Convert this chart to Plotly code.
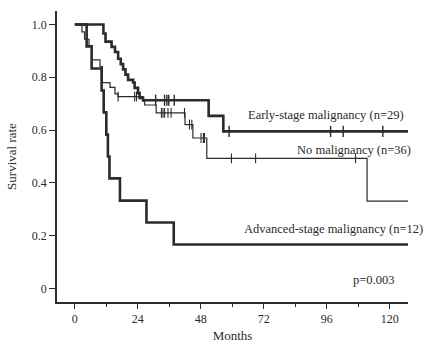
import plotly.graph_objects as go

# ---- data ----
# No malignancy (n=36): event times and survival after each event
nomal_t = [0, 2.7, 3.7, 5.4, 6.4, 9.6, 10.5, 13.4, 15.3, 16.5, 26, 26.6, 31, 42, 45, 50.3, 111.4, 127]
nomal_s = [1.0, 0.972, 0.944, 0.917, 0.866, 0.840, 0.780, 0.762, 0.737, 0.727, 0.710, 0.695, 0.665, 0.621, 0.570, 0.493, 0.331, 0.331]
nomal_cens_t = [16.5, 22.8, 23.5, 33, 33.6, 34.2, 35.5, 36.7, 41.8, 43.7, 44.6, 48.1, 49, 49.4, 59.7, 68.9, 107]
nomal_cens_s = [0.727, 0.727, 0.727, 0.665, 0.665, 0.665, 0.665, 0.665, 0.665, 0.621, 0.621, 0.570, 0.570, 0.570, 0.493, 0.493, 0.493]

# Early-stage malignancy (n=29)
early_t = [0, 10.9, 11.7, 14, 15.3, 16.5, 17.5, 18.4, 19.3, 20.3, 22.2, 22.8, 24.1, 24.7, 26, 51, 56.6, 127]
early_s = [1.0, 0.966, 0.935, 0.915, 0.896, 0.870, 0.850, 0.830, 0.810, 0.790, 0.780, 0.760, 0.740, 0.722, 0.713, 0.654, 0.595, 0.595]
early_cens_t = [30.8, 34.2, 35.1, 35.8, 37.9, 58.8, 97.5, 102.3, 117.4]
early_cens_s = [0.713, 0.713, 0.713, 0.713, 0.713, 0.595, 0.595, 0.595, 0.595]

# Advanced-stage malignancy (n=12)
adv_t = [0, 4.5, 6.4, 10.2, 11, 12, 12.6, 13.2, 17.2, 27.3, 37.7, 127]
adv_s = [1.0, 0.917, 0.833, 0.750, 0.667, 0.583, 0.500, 0.417, 0.333, 0.250, 0.167, 0.167]

x_ticks = [0, 24, 48, 72, 96, 120]
y_ticks = [0, 0.2, 0.4, 0.6, 0.8, 1.0]
y_ticktext = ["0", "0.2", "0.4", "0.6", "0.8", "1.0"]

labels = ["Early-stage malignancy (n=29)", "No malignancy (n=36)",
          "Advanced-stage malignancy (n=12)", "p=0.003"]
label_y = [0.659, 0.524, 0.227, 0.033]
label_xpaper = [0.994, 1.014, 1.048, 0.966]

INK = "#2b2b2b"
FONT = "Liberation Serif, Times New Roman, serif"

fig = go.Figure()
fig.add_trace(go.Scatter(x=nomal_t, y=nomal_s, mode="lines", line=dict(shape="hv", color=INK, width=1.2), showlegend=False))
fig.add_trace(go.Scatter(x=early_t, y=early_s, mode="lines", line=dict(shape="hv", color=INK, width=2.6), showlegend=False))
fig.add_trace(go.Scatter(x=adv_t, y=adv_s, mode="lines", line=dict(shape="hv", color=INK, width=2.6), showlegend=False))
fig.add_trace(go.Scatter(x=nomal_cens_t, y=nomal_cens_s, mode="markers",
                         marker=dict(symbol="line-ns", size=7, line=dict(color=INK, width=1.1)), showlegend=False))
fig.add_trace(go.Scatter(x=early_cens_t, y=early_cens_s, mode="markers",
                         marker=dict(symbol="line-ns", size=8, line=dict(color=INK, width=1.4)), showlegend=False))

for t, x, y in zip(labels, label_xpaper, label_y):
    fig.add_annotation(x=x, y=y, xref="paper", yref="y", text=t, showarrow=False,
                       xanchor="right", yanchor="middle",
                       font=dict(family=FONT, size=12.5, color=INK))

fig.update_layout(
    width=426, height=352,
    margin=dict(l=55, r=18, t=11, b=40),
    paper_bgcolor="white", plot_bgcolor="white",
    font=dict(family=FONT, size=12, color=INK),
)
fig.update_xaxes(range=[-6.8, 127], tickvals=x_ticks, ticks="outside", ticklen=5, tickcolor=INK,
                 showline=True, linecolor=INK, linewidth=1.5, showgrid=False, zeroline=False,
                 minor=dict(dtick=12, tick0=0, ticks="outside", ticklen=3, tickcolor=INK, showgrid=False),
                 title=dict(text="Months", standoff=6, font=dict(family=FONT, size=13, color=INK)),
                 tickfont=dict(family=FONT, size=12, color=INK))
fig.update_yaxes(range=[-0.051, 1.051], tickvals=y_ticks, ticktext=y_ticktext, ticks="outside", ticklen=6,
                 tickcolor=INK, showline=True, linecolor=INK, linewidth=1.5, showgrid=False, zeroline=False,
                 title=dict(text="Survival rate", standoff=12, font=dict(family=FONT, size=13, color=INK)),
                 tickfont=dict(family=FONT, size=12, color=INK))

fig.write_html("out.html")
